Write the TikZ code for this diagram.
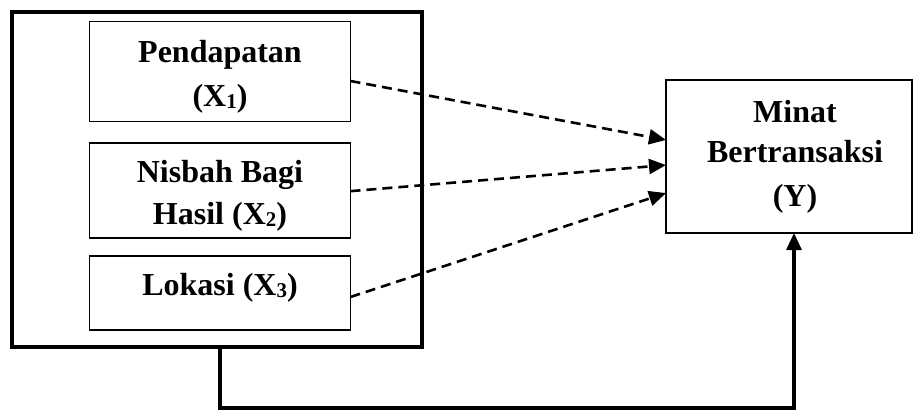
\documentclass[tikz,border=0pt]{standalone}
\usepackage{fontspec}
\setmainfont{Liberation Serif}
\usetikzlibrary{arrows.meta,calc}
% lowered, smaller index for the variable names
\newcommand\lowidx[1]{\raisebox{-2.5pt}{\fontsize{21}{21}\selectfont #1}}
\begin{document}
\begin{tikzpicture}[x=1pt,y=-1pt,
  box/.style={draw, line width=1.5pt, inner sep=0pt, outer sep=0pt},
  groupbox/.style={draw, line width=4pt, inner sep=0pt, outer sep=0pt},
  txt/.style={font=\fontsize{32}{38}\selectfont\bfseries, inner sep=0pt, anchor=base},
  link/.style={dash pattern=on 10pt off 6pt, line width=2.6pt,
    -{Triangle[length=17pt,width=15pt]}},
  joint/.style={line width=3.2pt, -{Triangle[length=17pt,width=15pt]}}]
\useasboundingbox (0,0) rectangle (914,410);

% group of independent variables
\node[groupbox, minimum width=410pt, minimum height=335pt] (outer) at (217,179.5) {};
\node[box, minimum width=261pt, minimum height=100pt] (b1) at (220,71.5) {};
\node[box, minimum width=261pt, minimum height=95pt] (b2) at (220,190.5) {};
\node[box, minimum width=261pt, minimum height=74pt] (b3) at (220,293) {};

% dependent variable
\node[box, minimum width=246pt, minimum height=153pt] (yb) at (789,156.5) {};

% labels
\node[txt] (t1a) at (220,62) {Pendapatan};
\node[txt] (t1b) at (220,106) {(X\lowidx{1})};
\node[txt] (t2a) at (220,182) {Nisbah Bagi};
\node[txt] (t2b) at (220,224) {Hasil (X\lowidx{2})};
\node[txt] (t3a) at (220,295) {Lokasi (X\lowidx{3})};
\node[txt] (tya) at (795,122) {Minat};
\node[txt] (tyb) at (795,162) {Bertransaksi};
\node[txt] (tyc) at (795,206) {(Y)};

% partial effects
\coordinate (s1) at ($(b1.north east)!0.595!(b1.south east)$);
\coordinate (s2) at ($(b2.north east)!0.507!(b2.south east)$);
\coordinate (s3) at ($(b3.north east)!0.554!(b3.south east)$);
\coordinate (e1) at ($(yb.north west)!0.392!(yb.south west)$);
\coordinate (e2) at ($(yb.north west)!0.556!(yb.south west)$);
\coordinate (e3) at ($(yb.north west)!0.739!(yb.south west)$);
\draw[link] (s1) -- (e1);
\draw[link] (s2) -- (e2);
\draw[link] (s3) -- (e3);

% joint effect
\draw[joint] ([xshift=3pt]outer.south) -- ++(0,61) -| ([xshift=5pt]yb.south);
\end{tikzpicture}
\end{document}
